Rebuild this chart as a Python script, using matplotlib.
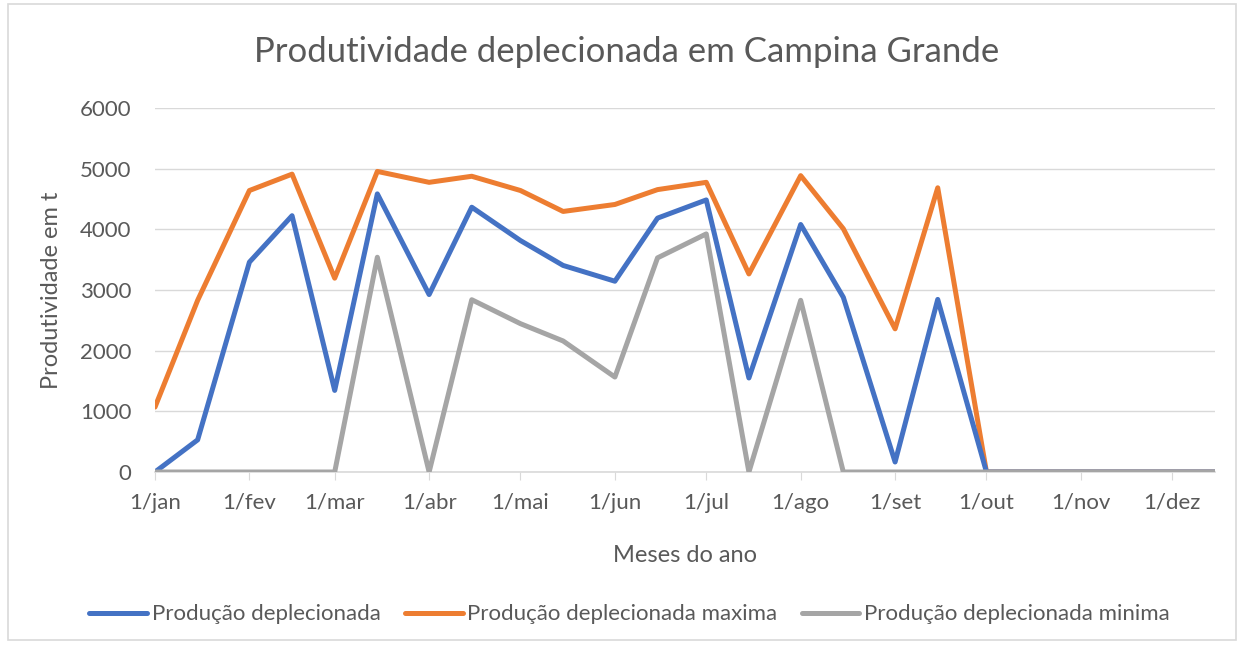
import matplotlib
matplotlib.use("Agg")
import matplotlib.pyplot as plt
from matplotlib.patches import Rectangle
import datetime as dt

plt.rcParams['font.family'] = ['Lato', 'DejaVu Sans']

# dias 1 e 15 de cada mes
datas = []
for m in range(1, 13):
    datas.append(dt.date(2021, m, 1))
    datas.append(dt.date(2021, m, 15))

producao = [0, 530, 3460, 4225, 1345, 4585, 2925, 4365, 3815, 3405, 3145, 4185,
            4485, 1550, 4080, 2880, 165, 2845, 0, 0, 0, 0, 0, 0]
producao_max = [1070, 2830, 4640, 4910, 3195, 4955, 4775, 4875, 4640, 4295, 4410, 4655,
                4775, 3265, 4885, 4010, 2360, 4685, 0, 0, 0, 0, 0, 0]
producao_min = [0, 0, 0, 0, 0, 3540, 0, 2840, 2445, 2160, 1565, 3530,
                3925, 0, 2830, 0, 0, 0, 0, 0, 0, 0, 0, 0]

meses = ['jan', 'fev', 'mar', 'abr', 'mai', 'jun', 'jul', 'ago', 'set', 'out', 'nov', 'dez']
yticks = [0, 1000, 2000, 3000, 4000, 5000, 6000]

cinza_txt = '#595959'
grade = '#d9d9d9'

fig = plt.figure(figsize=(12.44, 6.48), dpi=100)
ax = fig.add_axes([0.1246, 0.2716, 0.852, 0.5617])

ax.plot(datas, producao, color='#4472c4', lw=3.6, label='Produção deplecionada', solid_capstyle='round', zorder=3)
ax.plot(datas, producao_max, color='#ed7d31', lw=3.6, label='Produção deplecionada maxima', solid_capstyle='round', zorder=2)
ax.plot(datas, producao_min, color='#a5a5a5', lw=3.6, label='Produção deplecionada minima', solid_capstyle='round', zorder=4)

ax.set_xlim(datas[0], datas[-1])
ax.set_ylim(0, 6000)
ax.set_yticks(yticks)
ax.set_xticks([dt.date(2021, m, 1) for m in range(1, 13)])
ax.set_xticklabels(['1/' + m for m in meses])

ax.grid(axis='y', color=grade, lw=1)
ax.set_axisbelow(True)
for s in ['top', 'right', 'left']:
    ax.spines[s].set_visible(False)
ax.spines['bottom'].set_color(grade)
ax.spines['bottom'].set_linewidth(1.2)
ax.tick_params(axis='y', length=0, pad=17, labelsize=16, labelcolor=cinza_txt)
ax.tick_params(axis='x', length=6, color=grade, direction='out', pad=9, labelsize=16, labelcolor=cinza_txt)

fig.text(0.504, 1 - 52 / 648, 'Produtividade deplecionada em Campina Grande', fontsize=25,
         color=cinza_txt, ha='center', va='center')
ax.set_ylabel('Produtividade em t', fontsize=17, color=cinza_txt, labelpad=13)
ax.set_xlabel('Meses do ano', fontsize=17, color=cinza_txt, labelpad=23)

fig.legend(loc='center', bbox_to_anchor=(0.506, 0.052), ncol=3, frameon=False, fontsize=16,
           labelcolor=cinza_txt, handlelength=2.6, handletextpad=0.2, columnspacing=1.1)

fig.patches.append(Rectangle((8 / 1244, 8 / 648), 1228 / 1244, 636 / 648, transform=fig.transFigure,
                             fill=False, edgecolor=grade, lw=1.2))

fig.savefig('out.png', dpi=100)
